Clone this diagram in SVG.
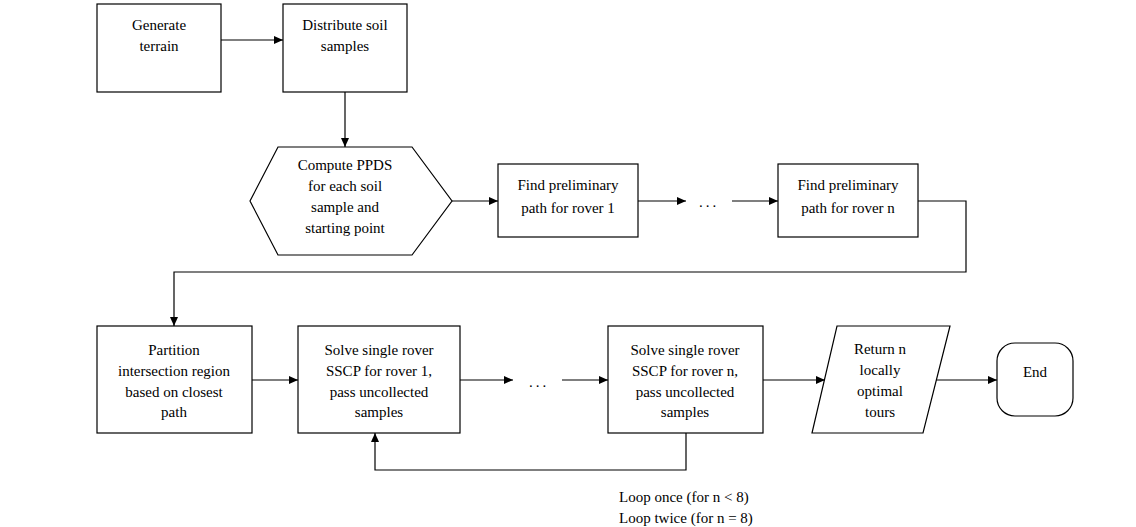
<svg xmlns="http://www.w3.org/2000/svg" width="1136" height="527" viewBox="0 0 1136 527">
<style>
.n{fill:#fff;stroke:#000;stroke-width:1.2}
.c{fill:none;stroke:#000;stroke-width:1.2}
text{font-family:"Liberation Serif","Times New Roman",serif;font-size:15px;fill:#000;text-anchor:middle}
.l{text-anchor:start}
</style>
<defs>
<marker id="ah" markerWidth="10" markerHeight="8" refX="9" refY="4" orient="auto" markerUnits="userSpaceOnUse">
<path d="M0,0 L9,4 L0,8 Z" fill="#000"/>
</marker>
</defs>
<rect width="1136" height="527" fill="#fff"/>
<g id="connectors">
<line class="c" x1="221" y1="40" x2="283" y2="40" marker-end="url(#ah)"/>
<line class="c" x1="345" y1="92" x2="345" y2="147" marker-end="url(#ah)"/>
<line class="c" x1="452" y1="201" x2="498" y2="201" marker-end="url(#ah)"/>
<line class="c" x1="638" y1="201" x2="686" y2="201" marker-end="url(#ah)"/>
<line class="c" x1="732" y1="201" x2="778" y2="201" marker-end="url(#ah)"/>
<polyline class="c" points="918,201 966,201 966,272 174,272 174,326" marker-end="url(#ah)"/>
<line class="c" x1="252" y1="380" x2="298" y2="380" marker-end="url(#ah)"/>
<line class="c" x1="460" y1="380" x2="513" y2="380" marker-end="url(#ah)"/>
<line class="c" x1="562" y1="380" x2="608" y2="380" marker-end="url(#ah)"/>
<polyline class="c" points="686,433 686,470 375,470 375,433" marker-end="url(#ah)"/>
<line class="c" x1="763" y1="380" x2="825" y2="380" marker-end="url(#ah)"/>
<line class="c" x1="935" y1="380" x2="997" y2="380" marker-end="url(#ah)"/>
<text x="709" y="207" letter-spacing="3">...</text>
<text x="539" y="387" letter-spacing="3">...</text>
<text class="l" x="619" y="502">Loop once (for n &lt; 8)</text>
<text class="l" x="619" y="523">Loop twice (for n = 8)</text>
</g>
<g id="generate">
<rect class="n" x="97" y="4" width="124" height="88"/>
<text x="159" y="30">Generate</text>
<text x="159" y="51">terrain</text>
</g>
<g id="distribute">
<rect class="n" x="283" y="4" width="124" height="88"/>
<text x="345" y="30">Distribute soil</text>
<text x="345" y="51">samples</text>
</g>
<g id="compute">
<polygon class="n" points="278,147 412,147 452,201 412,255 278,255 250,201"/>
<text x="345" y="170">Compute PPDS</text>
<text x="345" y="191">for each soil</text>
<text x="345" y="212">sample and</text>
<text x="345" y="233">starting point</text>
</g>
<g id="prelim1">
<rect class="n" x="498" y="164" width="140" height="73"/>
<text x="568" y="190">Find preliminary</text>
<text x="568" y="213">path for rover 1</text>
</g>
<g id="prelimn">
<rect class="n" x="778" y="164" width="140" height="73"/>
<text x="848" y="190">Find preliminary</text>
<text x="848" y="213">path for rover n</text>
</g>
<g id="partition">
<rect class="n" x="97" y="326" width="155" height="107"/>
<text x="174" y="355">Partition</text>
<text x="174" y="376">intersection region</text>
<text x="174" y="397">based on closest</text>
<text x="174" y="417">path</text>
</g>
<g id="sscp1">
<rect class="n" x="298" y="326" width="162" height="107"/>
<text x="379" y="355">Solve single rover</text>
<text x="379" y="376">SSCP for rover 1,</text>
<text x="379" y="397">pass uncollected</text>
<text x="379" y="417">samples</text>
</g>
<g id="sscpn">
<rect class="n" x="608" y="326" width="155" height="107"/>
<text x="685" y="355">Solve single rover</text>
<text x="685" y="376">SSCP for rover n,</text>
<text x="685" y="397">pass uncollected</text>
<text x="685" y="417">samples</text>
</g>
<g id="return">
<polygon class="n" points="837,326 950,326 923,433 812,433"/>
<text x="880" y="354">Return n</text>
<text x="880" y="375">locally</text>
<text x="880" y="396">optimal</text>
<text x="880" y="417">tours</text>
</g>
<g id="end">
<rect class="n" x="997" y="343" width="76" height="73" rx="18" ry="18"/>
<text x="1035" y="377">End</text>
</g>
</svg>
